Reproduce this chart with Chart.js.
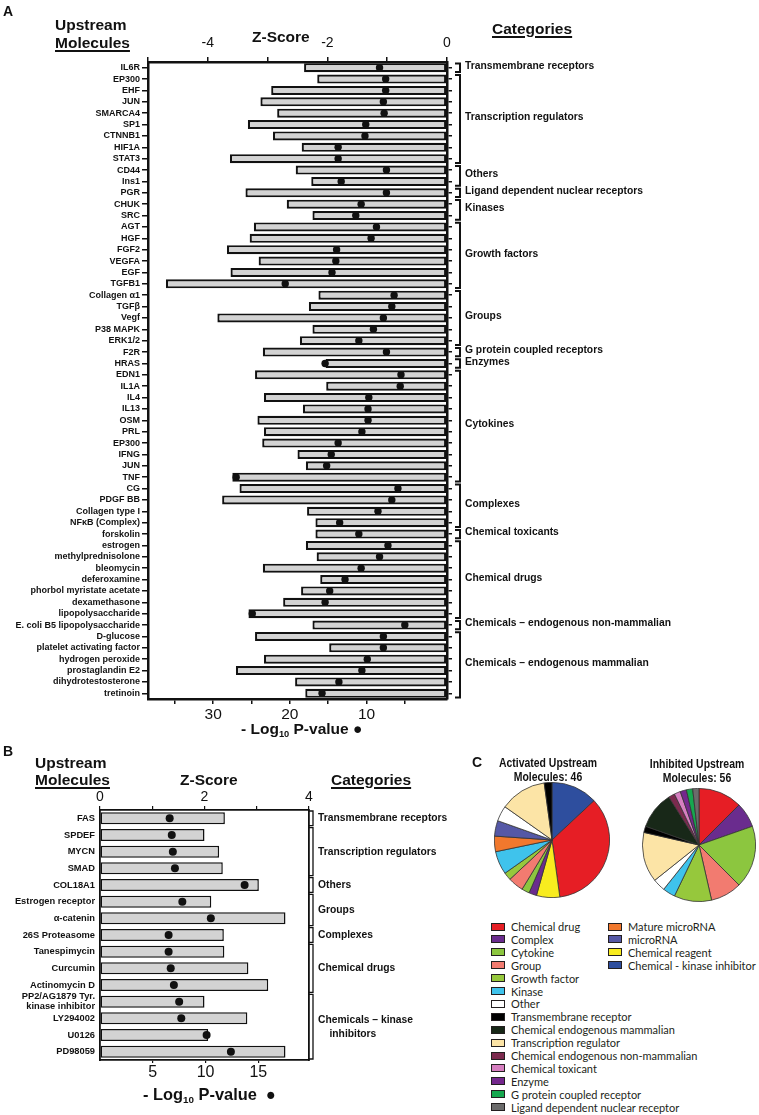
<!DOCTYPE html>
<html>
<head>
<meta charset="utf-8">
<title>Upstream molecules</title>
<script src="https://cdn.jsdelivr.net/npm/chart.js@4.4.1/dist/chart.umd.min.js"></script>
<style>
  html, body { margin:0; padding:0; background:#fff; }
  #page { position:relative; width:759px; height:1115px; overflow:hidden; font-family:"Liberation Sans", Arial, sans-serif; color:#111; }
  canvas { position:absolute; }
  .txt { position:absolute; white-space:nowrap; font-weight:bold; line-height:1; }
  .h { font-size:15.5px; }
  .u { text-decoration:underline; text-decoration-thickness:1.5px; text-underline-offset:2px; }
  .panel { font-size:14px; }
  .txt sub { font-size:0.6em; vertical-align:-0.3em; line-height:0; }
  .pt { position:absolute; width:160px; text-align:center; font-weight:bold; font-size:12.5px; line-height:14px; transform:scaleX(0.835); transform-origin:50% 0; }
  .leg { position:absolute; font-family:Lato, "Open Sans", sans-serif; font-size:11px; color:#231f20; white-space:nowrap; line-height:12px; }
  .sw { position:absolute; width:12px; height:6px; border:1.5px solid #231f20; }
</style>
</head>
<body>
<div id="page">
  <canvas id="chartA" width="759" height="745" style="left:0;top:0"></canvas>
  <canvas id="chartB" width="470" height="370" style="left:0;top:745px"></canvas>
  <canvas id="pieAct" width="116" height="116" style="left:494px;top:782px"></canvas>
  <canvas id="pieInh" width="114" height="114" style="left:642px;top:788px"></canvas>

  <div class="txt panel" style="left:3px;top:4px">A</div>
  <div class="txt h" style="left:55px;top:17px">Upstream</div>
  <div class="txt h u" style="left:55px;top:34.5px">Molecules</div>
  <div class="txt h" style="left:252px;top:28.5px">Z-Score</div>
  <div class="txt h u" style="left:492px;top:20.7px">Categories</div>
  <div class="txt h" style="left:241px;top:721px">- Log<sub>10</sub> P-value ●</div>

  <div class="txt panel" style="left:3px;top:744px">B</div>
  <div class="txt h" style="left:35px;top:755px">Upstream</div>
  <div class="txt h u" style="left:35px;top:772px">Molecules</div>
  <div class="txt h" style="left:180px;top:772px">Z-Score</div>
  <div class="txt h u" style="left:331px;top:772px">Categories</div>
  <div class="txt" style="left:143px;top:1086px;font-size:16.4px">- Log<sub>10</sub> P-value&nbsp; ●</div>

  <div class="txt panel" style="left:472px;top:755px">C</div>
  <div class="pt" id="titleAct" style="left:468px;top:755.5px"></div>
  <div class="pt" id="titleInh" style="left:617px;top:757px"></div>
  <div id="legend"></div>
</div>
<script>
// ---------- PANEL A DATA ----------
const moleculesA = ['IL6R','EP300','EHF','JUN','SMARCA4','SP1','CTNNB1','HIF1A','STAT3','CD44','Ins1','PGR','CHUK','SRC',
  'AGT','HGF','FGF2','VEGFA','EGF','TGFB1','Collagen α1','TGFβ','Vegf','P38 MAPK','ERK1/2','F2R','HRAS','EDN1','IL1A','IL4',
  'IL13','OSM','PRL','EP300','IFNG','JUN','TNF','CG','PDGF BB','Collagen type I','NFκB (Complex)','forskolin','estrogen',
  'methylprednisolone','bleomycin','deferoxamine','phorbol myristate acetate','dexamethasone','lipopolysaccharide',
  'E. coli B5 lipopolysaccharide','D-glucose','platelet activating factor','hydrogen peroxide','prostaglandin E2',
  'dihydrotestosterone','tretinoin'];
const zScoreA = [-2.39,-2.17,-2.94,-3.12,-2.84,-3.33,-2.91,-2.43,-3.63,-2.53,-2.27,-3.37,-2.68,-2.25,
  -3.23,-3.30,-3.68,-3.15,-3.62,-4.70,-2.15,-2.31,-3.84,-2.25,-2.46,-3.08,-2.03,-3.21,-2.02,-3.06,
  -2.41,-3.17,-3.06,-3.09,-2.50,-2.36,-3.59,-3.47,-3.76,-2.34,-2.20,-2.20,-2.36,
  -2.18,-3.08,-2.12,-2.44,-2.74,-3.32,-2.25,-3.21,-1.97,-3.06,-3.53,-2.54,-2.37];
const pValueA = [8.3,7.5,7.5,7.8,7.7,10.1,10.2,13.7,13.7,7.4,13.3,7.4,10.7,11.4,
  8.7,9.4,13.9,14.0,14.5,20.6,6.4,6.7,7.8,9.1,11.0,7.4,15.4,5.5,5.6,9.7,
  9.8,9.8,10.6,13.7,14.6,15.2,27.0,5.9,6.7,8.5,13.5,11.0,7.2,
  8.3,10.7,12.8,14.8,15.4,24.9,5.0,7.8,7.8,9.9,10.6,13.6,15.8];
const groupsA = ['Transmembrane receptors','Transcription regulators','Others','Ligand dependent nuclear receptors','Kinases',
  'Growth factors','Groups','G protein coupled receptors','Enzymes','Cytokines','Complexes','Chemical toxicants',
  'Chemical drugs','Chemicals – endogenous non-mammalian','Chemicals – endogenous mammalian'];
const groupSizesA = [1,8,2,1,2,6,5,1,1,10,4,1,7,1,6];

// ---------- PANEL B DATA ----------
const moleculesB = ['FAS','SPDEF','MYCN','SMAD','COL18A1','Estrogen receptor','α-catenin','26S Proteasome','Tanespimycin',
  'Curcumin','Actinomycin D',['PP2/AG1879 Tyr.','kinase inhibitor'],'LY294002','U0126','PD98059'];
const zScoreB = [2.39,2.0,2.28,2.35,3.04,2.13,3.55,2.37,2.38,2.84,3.22,2.0,2.82,2.07,3.55];
const pValueB = [6.6,6.8,6.9,7.1,13.7,7.8,10.5,6.5,6.5,6.7,7.0,7.5,7.7,10.1,12.4];
const groupsB = ['Transmembrane receptors','Transcription regulators','Others','Groups','Complexes','Chemical drugs',
  ['Chemicals – kinase','    inhibitors']];
const groupSizesB = [1,3,1,2,1,3,4];

// ---------- PANEL C DATA ----------
const typeNames = ['Chemical drug','Complex','Cytokine','Group','Growth factor','Kinase','Other','Transmembrane receptor',
  'Chemical endogenous mammalian','Transcription regulator','Chemical endogenous non-mammalian','Chemical toxicant','Enzyme',
  'G protein coupled receptor','Ligand dependent nuclear receptor','Mature microRNA','microRNA','Chemical reagent',
  'Chemical - kinase inhibitor'];
const activatedTypes = ['Chemical - kinase inhibitor','Chemical drug','Chemical reagent','Complex','Cytokine','Group',
  'Growth factor','Kinase','Mature microRNA','microRNA','Other','Transcription regulator','Transmembrane receptor'];
const activatedCounts = [6,16,3,1,1,2,1,3,2,2,2,6,1];
const inhibitedTypes = ['Chemical drug','Complex','Cytokine','Group','Growth factor','Kinase','Other','Transcription regulator',
  'Transmembrane receptor','Chemical endogenous mammalian','Chemical endogenous non-mammalian','Chemical toxicant','Enzyme',
  'G protein coupled receptor','Ligand dependent nuclear receptor'];
const inhibitedCounts = [7,4,10,5,6,2,2,8,1,6,1,1,1,1,1];

// colours, same order as typeNames
const typeColors = ['#e61e25','#6a2c8e','#8cc63f','#f27b70','#96c83c','#3fc3ec','#ffffff','#000000','#182818','#fce4a6',
  '#7c2a4e','#d67ec0','#74278d','#16a84f','#6b6b6b','#f1782d','#5558a6','#f8ec1f','#2e4e9e'];
const colorOf = t => typeColors[typeNames.indexOf(t)];

Chart.defaults.font.family = '"Liberation Sans", Arial, sans-serif';
Chart.defaults.color = '#111';

// brackets + category names to the right of the plot
function bracketPlugin(names, sizes, st) {
  return {
    id: 'brackets',
    afterDraw(chart) {
      const ctx = chart.ctx, y = chart.scales.y, right = chart.chartArea.right;
      const half = (y.getPixelForValue(1) - y.getPixelForValue(0)) / 2;
      const bx = right + st.dx;
      ctx.save();
      ctx.strokeStyle = '#111'; ctx.fillStyle = '#111';
      ctx.lineWidth = st.lw; ctx.font = st.font;
      ctx.textBaseline = 'middle'; ctx.textAlign = 'left';
      let start = 0;
      sizes.forEach((n, k) => {
        const top = y.getPixelForValue(start) - half + st.gap;
        const bot = y.getPixelForValue(start + n - 1) + half - st.gap;
        ctx.beginPath();
        ctx.moveTo(bx - st.cap, top); ctx.lineTo(bx, top); ctx.lineTo(bx, bot); ctx.lineTo(bx - st.cap, bot);
        ctx.stroke();
        const lines = [].concat(names[k]);
        const mid = (top + bot) / 2 + st.dy;
        lines.forEach((t, i) => ctx.fillText(t, right + st.tx, mid + (i - (lines.length - 1) / 2) * st.lh));
        start += n;
      });
      ctx.restore();
    }
  };
}

const black = '#111';

// ---------- PANEL A ----------
new Chart(document.getElementById('chartA'), {
  type: 'bar',
  data: {
    labels: moleculesA,
    datasets: [
      { type: 'line', data: pValueA, xAxisID: 'xp', yAxisID: 'y', showLine: false, order: 0,
        pointRadius: 3.7, pointBackgroundColor: black, pointBorderWidth: 0 },
      { type: 'bar', data: zScoreA, xAxisID: 'xz', yAxisID: 'y', order: 1,
        backgroundColor: '#d3d3d3', borderColor: black, borderWidth: 2.2, borderSkipped: false,
        barPercentage: 0.8, categoryPercentage: 1 }
    ]
  },
  options: {
    indexAxis: 'y', responsive: false, animation: false,
    layout: { padding: 0 },
    plugins: { legend: { display: false }, tooltip: { enabled: false } },
    scales: {
      y: { position: 'left', offset: true, afterFit: s => { s.width = 148; },
        grid: { offset: false, drawOnChartArea: false, tickLength: 6, color: black, lineWidth: 1.5 },
        border: { color: black, width: 2.5 },
        ticks: { autoSkip: false, padding: 2, color: black, font: { size: 9, weight: 'bold' } } },
      yr: { type: 'category', position: 'right', offset: true, afterFit: s => { s.width = 312; },
        grid: { offset: false, drawOnChartArea: false, tickLength: 5, color: black, lineWidth: 1.5 },
        border: { color: black, width: 2.5 },
        ticks: { autoSkip: false, callback: () => '' } },
      xz: { type: 'linear', position: 'top', min: -5, max: 0, afterFit: s => { s.height = 62; },
        grid: { drawOnChartArea: false, tickLength: 5, color: black, lineWidth: 1.5 },
        border: { color: black, width: 2.5 },
        ticks: { stepSize: 1, autoSkip: false, padding: 5, maxRotation: 0, color: black, font: { size: 14 },
          callback: v => (v % 2 === 0 ? String(v) : '') } },
      xp: { type: 'linear', position: 'bottom', reverse: true, min: -0.5, max: 38.5, afterFit: s => { s.height = 46; },
        afterBuildTicks: s => { s.ticks = s.ticks.filter(t => t.value > 0 && t.value < 38); },
        grid: { drawOnChartArea: false, tickLength: 5, color: black, lineWidth: 1.5 },
        border: { color: black, width: 2.5 },
        ticks: { stepSize: 5, includeBounds: false, autoSkip: false, padding: 1, maxRotation: 0, color: black,
          font: { size: 15.5 }, callback: v => (v % 10 === 0 ? String(v) : '') } }
    }
  },
  plugins: [bracketPlugin(groupsA, groupSizesA,
    { dx: 13, cap: 5, tx: 18, gap: 1.5, lw: 2, dy: -1.5, lh: 12, font: 'bold 10.3px "Liberation Sans", Arial' })]
});

// ---------- PANEL B ----------
new Chart(document.getElementById('chartB'), {
  type: 'bar',
  data: {
    labels: moleculesB,
    datasets: [
      { type: 'line', data: pValueB, xAxisID: 'xp', yAxisID: 'y', showLine: false, order: 0,
        pointRadius: 4, pointBackgroundColor: black, pointBorderWidth: 0 },
      { type: 'bar', data: zScoreB, xAxisID: 'xz', yAxisID: 'y', order: 1,
        backgroundColor: '#d3d3d3', borderColor: black, borderWidth: 1.5, borderSkipped: false,
        barPercentage: 0.72, categoryPercentage: 1 }
    ]
  },
  options: {
    indexAxis: 'y', responsive: false, animation: false,
    layout: { padding: 0 },
    plugins: { legend: { display: false }, tooltip: { enabled: false } },
    scales: {
      y: { position: 'left', offset: true, afterFit: s => { s.width = 100; },
        grid: { offset: false, drawOnChartArea: false, drawTicks: false, tickLength: 0 },
        border: { color: black, width: 1.8 },
        ticks: { autoSkip: false, padding: 5, color: black, font: { size: 9.3, weight: 'bold', lineHeight: 1.1 } } },
      yr: { type: 'category', position: 'right', offset: true, afterFit: s => { s.width = 161; },
        grid: { offset: false, drawOnChartArea: false, drawTicks: false, tickLength: 0 },
        border: { color: black, width: 1.8 },
        ticks: { autoSkip: false, callback: () => '' } },
      xz: { type: 'linear', position: 'top', min: 0, max: 4, afterFit: s => { s.height = 65; },
        grid: { drawOnChartArea: false, tickLength: 4, color: black, lineWidth: 1.2 },
        border: { color: black, width: 1.8 },
        ticks: { stepSize: 1, autoSkip: false, padding: 0, maxRotation: 0, color: black, font: { size: 14 },
          callback: v => (v % 2 === 0 ? String(v) : '') } },
      xp: { type: 'linear', position: 'bottom', min: 0, max: 19.8, afterFit: s => { s.height = 55; },
        afterBuildTicks: s => { s.ticks = s.ticks.filter(t => t.value > 0 && t.value < 19); },
        grid: { drawOnChartArea: false, tickLength: 3, color: black, lineWidth: 1.2 },
        border: { color: black, width: 1.8 },
        ticks: { stepSize: 5, includeBounds: false, autoSkip: false, padding: 0, maxRotation: 0, color: black,
          font: { size: 16 }, callback: v => String(v) } }
    }
  },
  plugins: [bracketPlugin(groupsB, groupSizesB,
    { dx: 4, cap: 4, tx: 9, gap: 1, lw: 1.3, dy: 0, lh: 14, font: 'bold 10.3px "Liberation Sans", Arial' })]
});

// ---------- PANEL C ----------
function pie(id, types, counts) {
  new Chart(document.getElementById(id), {
    type: 'pie',
    data: { labels: types, datasets: [{ data: counts, backgroundColor: types.map(colorOf), borderColor: '#333', borderWidth: 0.8 }] },
    options: { responsive: false, animation: false, layout: { padding: 0 },
      plugins: { legend: { display: false }, tooltip: { enabled: false } } }
  });
}
pie('pieAct', activatedTypes, activatedCounts);
pie('pieInh', inhibitedTypes, inhibitedCounts);

const total = a => a.reduce((s, v) => s + v, 0);
document.getElementById('titleAct').innerHTML = 'Activated Upstream<br>Molecules: ' + total(activatedCounts);
document.getElementById('titleInh').innerHTML = 'Inhibited Upstream<br>Molecules: ' + total(inhibitedCounts);

// legend, two columns
const legendBox = document.getElementById('legend');
typeNames.forEach((name, i) => {
  const col = i < 15 ? 0 : 1, row = col ? i - 15 : i;
  const cy = 927 + row * 12.9;
  const sw = document.createElement('div');
  sw.className = 'sw';
  sw.style.left = (col ? 608 : 491) + 'px';
  sw.style.top = (cy - 4.5) + 'px';
  sw.style.background = typeColors[i];
  const tx = document.createElement('div');
  tx.className = 'leg';
  tx.style.left = (col ? 628 : 511) + 'px';
  tx.style.top = (cy - 6) + 'px';
  tx.textContent = name;
  legendBox.appendChild(sw);
  legendBox.appendChild(tx);
});
</script>
</body>
</html>
